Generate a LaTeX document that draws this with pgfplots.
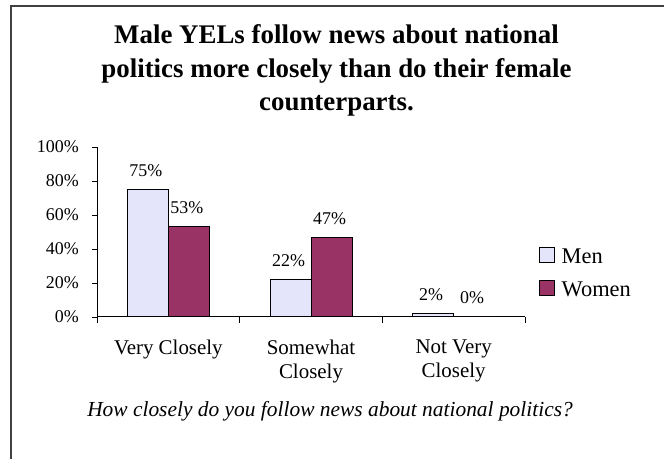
\documentclass[border=0pt]{standalone}
\usepackage{fontspec}
\setmainfont{Liberation Serif}
\usepackage{pgfplots}
\pgfplotsset{compat=1.18}
\definecolor{menfill}{HTML}{E4E4FA}
\definecolor{womenfill}{HTML}{993366}
\definecolor{framecol}{HTML}{404040}
\pgfplotsset{sqlegend/.style={legend image code/.code={\draw[##1,line width=1bp] (0bp,-6bp) rectangle (15bp,9bp); \path (21.7bp,0bp);}}}
\begin{document}
\begin{tikzpicture}[x=1bp,y=1bp]
\useasboundingbox (0,0) rectangle (664,459);
\draw[line width=1.5bp, framecol] (11,-20) -- (11,453) -- (700,453);
\node[anchor=base, inner sep=0pt, font=\bfseries\fontsize{27}{32}\selectfont] at (336.5,415) {Male YELs follow news about national};
\node[anchor=base, inner sep=0pt, font=\bfseries\fontsize{27}{32}\selectfont] at (336.5,381.5) {politics more closely than do their female};
\node[anchor=base, inner sep=0pt, font=\bfseries\fontsize{27}{32}\selectfont] at (336.5,348) {counterparts.};
\node[anchor=base, inner sep=0pt, font=\itshape\fontsize{21.5}{24}\selectfont] at (330,42) {How closely do you follow news about national politics?};
\begin{axis}[
  at={(97bp,142bp)}, anchor=south west,
  scale only axis, width=428bp, height=170bp,
  xmin=-0.5, xmax=2.5, ymin=0, ymax=100,
  axis lines*=left,
  axis line style={black, line width=1bp},
  ybar=0pt, bar width=41bp,
  xtick={0,1,2},
  xticklabels={Very Closely, {Somewhat\\Closely}, {Not Very\\Closely}},
  minor xtick={-0.5,0.5,1.5,2.5},
  major x tick style={draw=none},
  tick align=outside,
  major tick length=5bp, minor tick length=6bp,
  tick style={black, line width=0.8bp},
  ytick={0,20,40,60,80,100},
  yticklabel={\pgfmathprintnumber{\tick}\%},
  /pgf/number format/assume math mode=true,
  yticklabel style={font=\fontsize{18}{18}\selectfont, inner sep=0pt, anchor=east, xshift=-13bp},
  xticklabel style={font=\fontsize{21}{24}\selectfont, align=center, anchor=north, inner sep=0pt, yshift=-18bp},
  nodes near coords={\pgfmathprintnumber{\pgfplotspointmeta}\%},
  nodes near coords style={anchor=base, yshift=13bp, xshift=-2bp, inner sep=0pt, font=\fontsize{18}{18}\selectfont},
  every axis plot post/.append style={sqlegend},
  legend style={draw=none, fill=none, at={(1.0327,0.409)}, anchor=north west, inner sep=0pt, outer sep=0pt,
    nodes={inner sep=0pt, font=\fontsize{22.5}{22.5}\selectfont}, row sep=15bp},
  legend cell align=left,
  clip=false,
]
\addplot[fill=menfill, draw=black, line width=1bp] coordinates {(0,75) (1,22) (2,2)};
\addplot[fill=womenfill, draw=black, line width=1bp] coordinates {(0,53) (1,47) (2,0)};
\legend{Men, Women}
\end{axis}
\end{tikzpicture}
\end{document}
